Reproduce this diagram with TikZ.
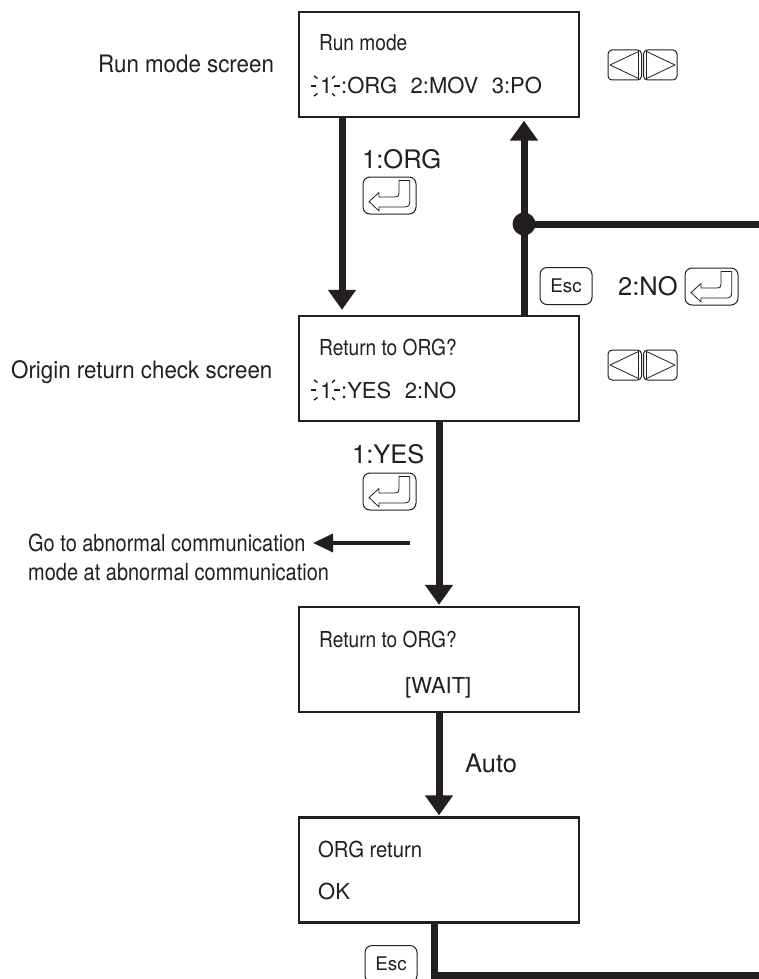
\documentclass[tikz,border=0pt]{standalone}
\usepackage{fontspec}
\setmainfont{TeX Gyre Heros}
\newfontfamily\condf[FakeStretch=0.87]{TeX Gyre Heros}
\newfontfamily\midf[FakeStretch=0.93]{TeX Gyre Heros}
\newfontfamily\gof[FakeStretch=0.85]{TeX Gyre Heros}
\newfontfamily\orgf[FakeStretch=0.92]{TeX Gyre Heros}
\usetikzlibrary{arrows.meta}
\definecolor{ink}{HTML}{231F20}
\newcommand{\fs}[1]{\fontsize{#1}{#1}\selectfont}
\tikzset{
  x=1pt,y=-1pt,
  screen/.style={draw=ink,line width=2.4pt,fill=white,minimum width=280pt,minimum height=105pt,inner sep=0pt},
  flow/.style={draw=ink,line width=7pt},
  flowarrow/.style={flow,-{Triangle[length=20pt,width=27pt]}},
  small/.style={-{Triangle[length=20pt,width=18pt]},draw=ink,line width=3.4pt},
  scrA/.style={anchor=base west,inner sep=0pt,text=ink,font=\condf\fs{22}},
  scrB/.style={anchor=base west,inner sep=0pt,text=ink,font=\fs{22}},
  lab/.style={anchor=base west,inner sep=0pt,text=ink,font=\fs{25.5}},
  side/.style={anchor=base west,inner sep=0pt,text=ink,font=\midf\fs{24}},
  dot/.style={circle,fill=ink,minimum size=23pt,inner sep=0pt},
  keybox/.style={draw=ink,line width=1pt,rounded corners=7pt,fill=white,inner sep=0pt},
  keyline/.style={draw=ink,line width=.8pt,line join=round},
  esckey/.style={keybox,minimum width=52pt,minimum height=37pt,font=\fs{18.8},text=ink},
  tick/.style={draw=ink,line width=1.4pt},
  enterkey/.pic={
    \draw[keybox] (0,0) rectangle (53,37);
    \draw[keyline] (6,24.5) -- (16,15.5) -- (16,20) -- (32,20) .. controls (35,20) and (36,19) .. (36,16) -- (36,3.5) -- (46.7,3.5) -- (46.7,25) .. controls (46.7,28.5) and (45,30) .. (41.5,30) -- (16,30) -- (16,34) -- cycle;
  },
  arrowkeys/.pic={
    \draw[keybox,rounded corners=4pt] (0,0) rectangle (33.5,30);
    \draw[keybox,rounded corners=4pt] (35.5,0) rectangle (69,30);
    \draw[keyline] (30.5,1.5) -- (30.5,28.5) -- (2,15) -- cycle;
    \draw[keyline] (38.5,1.5) -- (38.5,28.5) -- (67,15) -- cycle;
  },
  flash/.pic={
    \draw[tick] (-14,0) -- (-9,0);
    \draw[tick] (-11,-10) -- (-7.5,-7.5);
    \draw[tick] (-11,10) -- (-7.5,7.5);
    \draw[tick] (9,0) -- (15,0);
    \draw[tick] (7,-7.5) -- (10,-10);
    \draw[tick] (7,7.5) -- (10,10);
  },
}
\begin{document}
\begin{tikzpicture}
\useasboundingbox[fill=white] (0,0) rectangle (759,979);
% screens
\node[screen] (s1) at (439,64.5) {};
\node[screen] (s2) at (439,368.5) {};
\node[screen] (s3) at (439,659.5) {};
\node[screen] (s4) at (439,870) {};
% screen text
\node[scrA] (t1a) at (319,51) {Run mode};
\node[scrB] (t1b) at (341,94) {:ORG\hspace{.62em}2:MOV\hspace{.62em}3:PO};
\node[scrB] (d1) at (320,94) {1};
\node[scrA] (t2a) at (319,355) {Return to ORG?};
\node[scrB] (t2b) at (341,398) {:YES\hspace{.62em}2:NO};
\node[scrB] (d2) at (320,398) {1};
\node[scrA] (t3a) at (319,647) {Return to ORG?};
\node[scrB] (t3b) at (405,693) {[WAIT]};
\node[scrA,font=\orgf\fs{22}] (t4a) at (318,857) {ORG return};
\node[scrB] (t4b) at (318,899) {OK};
\pic at (325,86) {flash};
\pic at (325,390) {flash};
% side labels
\node[side] (r1) at (98,73) {Run mode screen};
\node[side] (r2) at (11,378) {Origin return check screen};
\node[side,anchor=north west,align=left,font=\gof\fontsize{23.5}{29}\selectfont] (go) at (28,534) {Go to abnormal communication\\mode at abnormal communication};
% connector labels
\node[lab] (l1) at (362,168) {1:ORG};
\node[lab] (l2) at (618,295) {2:NO};
\node[lab] (l3) at (352,463) {1:YES};
\node[lab] (l4) at (465,772) {Auto};
% connectors
\node[dot] (j) at (524,224) {};
\coordinate (jr) at (759,224);
\coordinate (br) at (759,975.5);
\coordinate (gs) at (410,543);
\coordinate (ge) at (313,543);
\draw[flowarrow,shorten >=5pt] ([xshift=-97pt]s1.south) -- ([xshift=-97pt]s2.north);
\draw[flow] ([xshift=85pt]s2.north) -- (j.center);
\draw[flowarrow,shorten >=2.5pt] (j.center) -- ([xshift=85pt]s1.south);
\draw[flow] (j.center) -- (jr);
\draw[flowarrow,shorten >=1pt] (s2.south) -- (s3.north);
\draw[flowarrow,shorten >=1pt] (s3.south) -- (s4.north);
\draw[flow] ([xshift=-5pt]s4.south) |- (br);
\draw[small] (gs) -- (ge);
% keys
\pic at (363,177) {enterkey};
\pic at (685,268) {enterkey};
\pic at (363,473) {enterkey};
\node[esckey] (e1) at (566,286) {Esc};
\node[esckey] (e2) at (391,964) {Esc};
\pic at (608,50) {arrowkeys};
\pic at (608,350) {arrowkeys};
\end{tikzpicture}
\end{document}
